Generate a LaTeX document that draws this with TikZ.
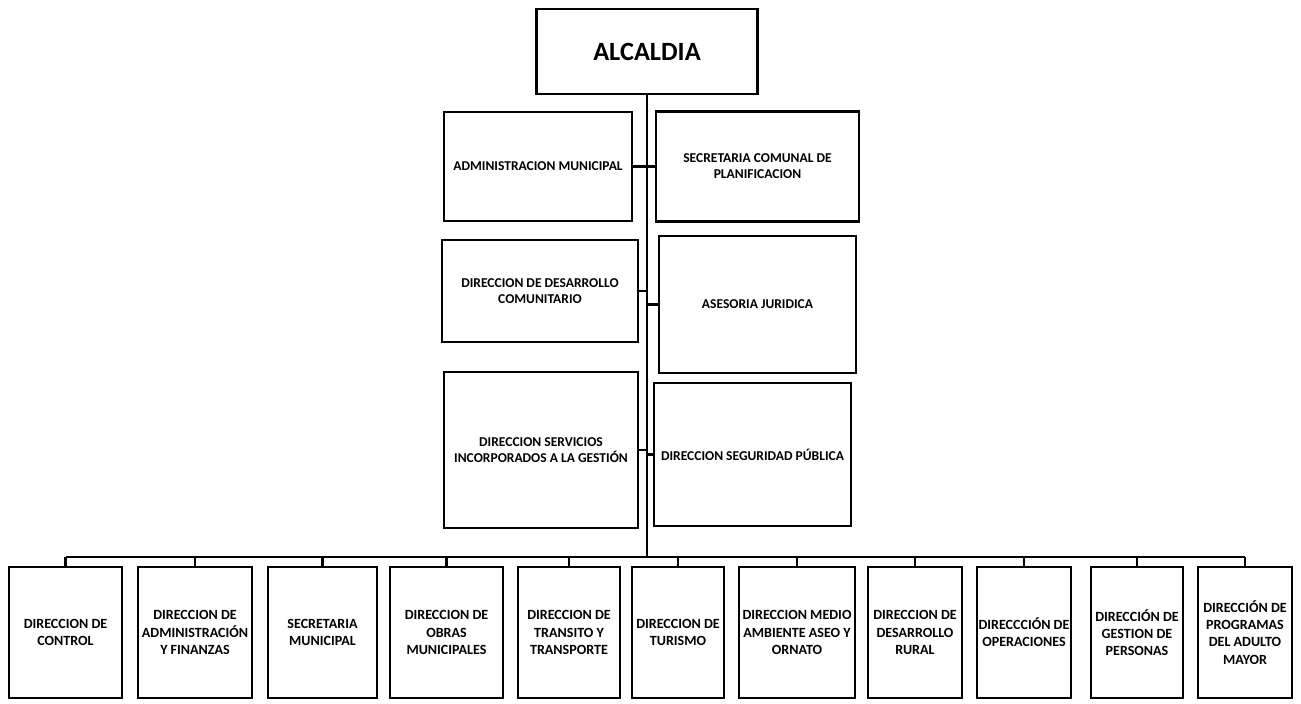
\documentclass[tikz,border=0pt]{standalone}
\usepackage{fontspec}
\setmainfont{Carlito}
\usepackage{tikz}
\tikzset{
    every node/.style={draw, rectangle, line width=1.2pt, align=center,
    	inner sep=1pt, font=\bfseries\fontsize{7.7}{9.2}\selectfont}
}
\tikzset{
    unit/.style={minimum height=2.62cm, font=\bfseries\fontsize{8}{9.8}\selectfont}
}
\tikzset{
    every path/.append style={line width=1.3pt}
}

\begin{document}
\begin{tikzpicture}[x=0.02cm, y=-0.02cm]
  \useasboundingbox (0,0) rectangle (1301,703);
  \node (alc) [minimum width=4.42cm, minimum height=1.70cm,
  	font=\bfseries\fontsize{15}{18}\selectfont] at (647, 51.5) {ALCALDIA};

  \node (adm) [minimum width=3.76cm, minimum height=2.18cm] at (538, 166.5) {ADMINISTRACION MUNICIPAL};
  \node (secpl) [minimum width=4.06cm, minimum height=2.20cm] at (757.5, 166.5) {SECRETARIA COMUNAL DE\\PLANIFICACION};
  \node (dideco) [minimum width=3.92cm, minimum height=2.04cm] at (540, 291) {DIRECCION DE DESARROLLO\\COMUNITARIO};
  \node (jur) [minimum width=3.94cm, minimum height=2.74cm] at (757.5, 304.5) {ASESORIA JURIDICA};
  \node (serv) [minimum width=3.88cm, minimum height=3.12cm] at (541, 450) {DIRECCION SERVICIOS\\INCORPORADOS A LA GESTIÓN};
  \node (seg) [minimum width=3.94cm, minimum height=2.86cm] at (752.5, 454.5) {DIRECCION SEGURIDAD PÚBLICA};

  \coordinate (bus) at (647, 557);

  \node (d1) [unit, minimum width=2.26cm] at (65.5, 632.5) {DIRECCION DE\\CONTROL};
  \node (d2) [unit, minimum width=2.28cm] at (195, 632.5) {DIRECCION DE\\ADMINISTRACIÓN\\Y FINANZAS};
  \node (d3) [unit, minimum width=2.18cm] at (322.5, 632.5) {SECRETARIA\\MUNICIPAL};
  \node (d4) [unit, minimum width=2.26cm] at (446.5, 632.5) {DIRECCION DE\\OBRAS\\MUNICIPALES};
  \node (d5) [unit, minimum width=2.04cm] at (569, 632.5) {DIRECCION DE\\TRANSITO Y\\TRANSPORTE};
  \node (d6) [unit, minimum width=1.84cm] at (678, 632.5) {DIRECCION DE\\TURISMO};
  \node (d7) [unit, minimum width=2.32cm] at (797, 632.5) {DIRECCION MEDIO\\AMBIENTE ASEO Y\\ORNATO};
  \node (d8) [unit, minimum width=1.88cm] at (915, 632.5) {DIRECCION DE\\DESARROLLO\\RURAL};
  \node (d9) [unit, minimum width=1.84cm] at (1024, 632.5) {DIRECCCIÓN DE\\OPERACIONES};
  \node (d10) [unit, minimum width=1.84cm] at (1137, 632.5) {DIRECCIÓN DE\\GESTION DE\\PERSONAS};
  \node (d11) [unit, minimum width=1.88cm] at (1245, 632.5) {DIRECCIÓN DE\\PROGRAMAS\\DEL ADULTO\\MAYOR};

  \draw (alc.south) -- (bus);
  \draw (adm.east) -- (secpl.west);
  \draw (dideco.east) -- (dideco.east -| bus);
  \draw (jur.west) -- (jur.west -| bus);
  \draw (serv.east) -- (serv.east -| bus);
  \draw (seg.west) -- (seg.west -| bus);

  \draw (d1.north |- bus) -- (d11.north |- bus);
  \foreach \n in {d1,d2,d3,d4,d5,d6,d7,d8,d9,d10,d11}
    \draw (\n.north) -- (\n.north |- bus);
\end{tikzpicture}
\end{document}
